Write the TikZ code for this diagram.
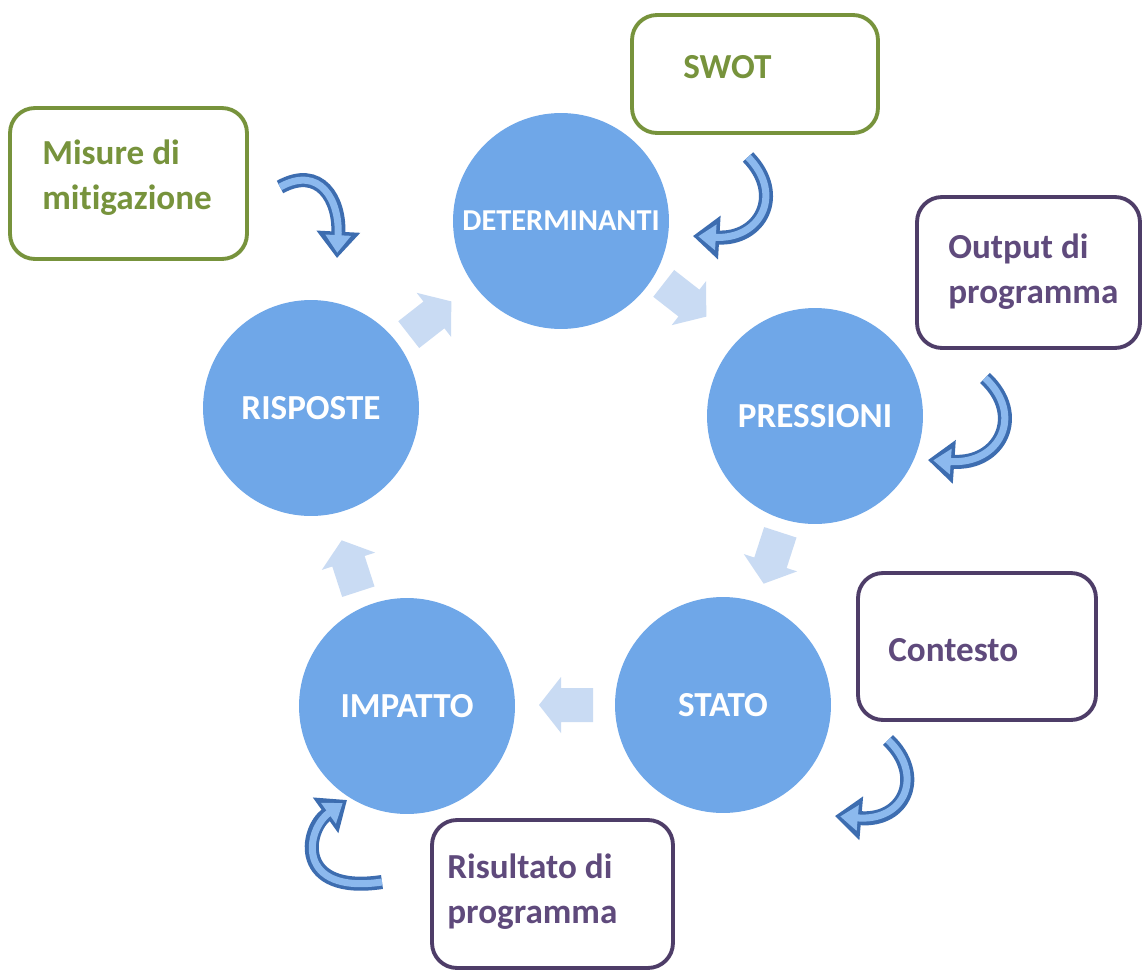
\documentclass[tikz,border=0pt]{standalone}
\usepackage{fontspec}
\setmainfont[Ligatures=NoCommon]{Carlito}
\usetikzlibrary{arrows.meta}
\definecolor{circc}{HTML}{6FA7E8}
\definecolor{chevc}{HTML}{C9DBF3}
\definecolor{grn}{HTML}{77933C}
\definecolor{pur}{HTML}{5F4A7C}
\definecolor{purb}{HTML}{4E3D68}
\definecolor{aout}{HTML}{3D6DB0}
\definecolor{ain}{HTML}{8CB9EE}
\begin{document}
\begin{tikzpicture}[x=0.02cm,y=-0.02cm,
  cyc/.style={circle, fill=circc, minimum size=4.32cm, inner sep=0pt,
    text=white, font=\fontsize{20}{24}\selectfont\bfseries},
  gbox/.style={draw=grn, line width=2.2pt, rounded corners=0.5cm, inner sep=0pt},
  pbox/.style={draw=purb, line width=2.2pt, rounded corners=0.5cm, inner sep=0pt},
  gtext/.style={text=grn, anchor=west, inner sep=0pt, align=left,
    font=\fontsize{20}{25.5}\selectfont\bfseries},
  ptext/.style={text=pur, anchor=west, inner sep=0pt, align=left,
    font=\fontsize{20}{25.5}\selectfont\bfseries},
  hookout/.style={draw=aout, line width=8pt, -{Triangle[length=15pt,width=24pt]}},
  hookin/.style={draw=ain, line width=4pt, shorten >=3pt, -{Triangle[length=10pt,width=14pt]}},
  chev/.pic={\fill[chevc] (-27,-17) -- (5,-17) -- (5,-28) -- (27,0) -- (5,28) -- (5,17) -- (-27,17) -- cycle;}
]
\useasboundingbox[fill=white] (0,0) rectangle (1144,970);

% cycle circles
\node[cyc] (det) at (561,221) {\fontsize{17.3}{20}\selectfont DETERMINANTI};
\node[cyc] (pre) at (815,416) {PRESSIONI};
\node[cyc] (sta) at (723,705) {STATO};
\node[cyc] (imp) at (407,706) {IMPATTO};
\node[cyc] (ris) at (311,408) {RISPOSTE};

% block arrows of the cycle
\pic[rotate=-38] at (685,300) {chev};
\pic[rotate=-108] at (772,558) {chev};
\pic[rotate=180] at (566,705) {chev};
\pic[rotate=108] at (350,566) {chev};
\pic[rotate=38] at (430,318) {chev};

% boxes
\node[gbox, minimum width=4.92cm, minimum height=2.36cm] (swot) at (755,74) {};
\node[gtext] (swott) at (683,67) {SWOT};
\node[gbox, minimum width=4.74cm, minimum height=3.02cm] (mis) at (128.5,183.5) {};
\node[gtext] (mist) at (42,178) {Misure di\\mitigazione};
\node[pbox, minimum width=4.46cm, minimum height=3.02cm] (out) at (1028.5,272.5) {};
\node[ptext] (outt) at (948,272) {Output di\\programma};
\node[pbox, minimum width=4.76cm, minimum height=2.94cm] (con) at (977,646.5) {};
\node[ptext] (cont) at (888,650) {Contesto};
\node[pbox, minimum width=4.82cm, minimum height=2.96cm] (ris2) at (552.5,894) {};
\node[ptext] (rist) at (447,892) {Risultato di\\programma};

% curved hook arrows
\foreach \s in {hookout,hookin}{
  \draw[\s] (748,157) .. controls (785,195) and (760,240) .. (693,236);
  \draw[\s] (280,187) .. controls (320,165) and (340,200) .. (337,258);
  \draw[\s] (985,378) .. controls (1025,415) and (1000,465) .. (928,460);
  \draw[\s] (888,740) .. controls (925,775) and (905,822) .. (835,816);
  \draw[\s] (382,882) .. controls (295,895) and (305,830) .. (347,800);
}
\end{tikzpicture}
\end{document}
